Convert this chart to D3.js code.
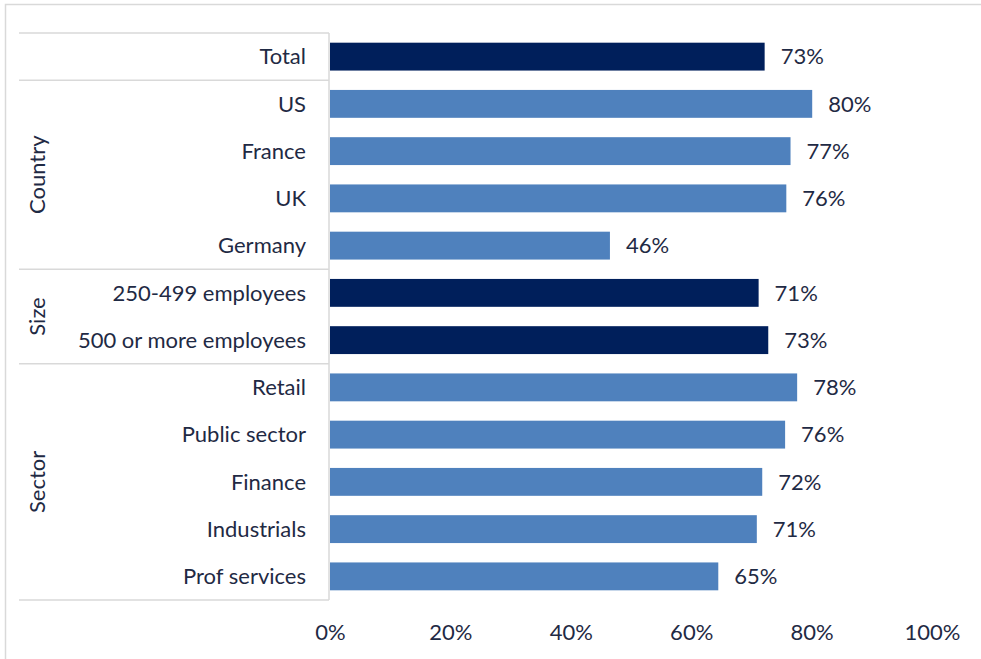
<!DOCTYPE html>
<html>
<head>
<meta charset="utf-8">
<script src="https://cdn.jsdelivr.net/npm/d3@7"></script>
<style>
  body { margin: 0; background: #fff; }
  text { font-family: Lato, "Open Sans", sans-serif; fill: #1f2a44; }
</style>
</head>
<body>
<svg id="chart"></svg>
<script>
// categories, top to bottom
const categories = ["Total", "US", "France", "UK", "Germany",
  "250-499 employees", "500 or more employees",
  "Retail", "Public sector ", "Finance", "Industrials", "Prof services"];
const values = [0.722, 0.801, 0.765, 0.758, 0.465, 0.712, 0.728, 0.776, 0.756, 0.718, 0.709, 0.645];
const valueLabels = ["73%", "80%", "77%", "76%", "46%", "71%", "73%", "78%", "76%", "72%", "71%", "65%"];
const highlight = ["Total", "250-499 employees", "500 or more employees"];
// groups: name, first and last category index
const groups = [
  {name: "", from: 0, to: 0},
  {name: "Country", from: 1, to: 4},
  {name: "Size", from: 5, to: 6},
  {name: "Sector", from: 7, to: 11}
];
const xTicks = [0, 0.2, 0.4, 0.6, 0.8, 1];

const chartW = 981, chartH = 659;
const plotL = 330, plotR = 932, plotT = 33, plotB = 600;
const fontSize = "22px";

const svg = d3.select("#chart").attr("width", chartW).attr("height", chartH);

// outer frame
svg.append("rect")
  .attr("x", 5.5).attr("y", 4.5)
  .attr("width", chartW).attr("height", chartH)
  .attr("fill", "none").attr("stroke", "#d9d9d9").attr("stroke-width", 1.5);

const x = d3.scaleLinear().domain([0, 1]).range([plotL, plotR]);
const y = d3.scaleBand().domain(categories).range([plotT, plotB])
  .paddingInner(0.41).paddingOuter(0.205);

// bars
svg.selectAll(".bar")
  .data(categories)
  .join("rect")
  .attr("class", "bar")
  .attr("x", x(0))
  .attr("y", d => y(d))
  .attr("width", (d, i) => x(values[i]) - x(0))
  .attr("height", y.bandwidth())
  .attr("fill", d => highlight.includes(d) ? "#001f5b" : "#4f81bd");

// value labels
svg.selectAll(".val")
  .data(categories)
  .join("text")
  .attr("class", "val")
  .attr("x", (d, i) => x(values[i]) + 16)
  .attr("y", d => y(d) + y.bandwidth() / 2)
  .attr("dy", "0.35em")
  .style("font-size", fontSize)
  .text((d, i) => valueLabels[i]);

// category labels
svg.selectAll(".cat")
  .data(categories)
  .join("text")
  .attr("class", "cat")
  .attr("x", 306)
  .attr("y", d => y(d) + y.bandwidth() / 2)
  .attr("dy", "0.35em")
  .attr("text-anchor", "end")
  .style("font-size", fontSize)
  .text(d => d);

// group table lines
const step = y.step();
const edge = i => plotT + i * step;
const lines = svg.append("g").attr("stroke", "#d9d9d9").attr("stroke-width", 1.5);
lines.append("line").attr("x1", 329).attr("x2", 329).attr("y1", plotT).attr("y2", plotB);
const borders = [0].concat(groups.map(g => g.to + 1));
lines.selectAll(".hl")
  .data(borders)
  .join("line")
  .attr("x1", 19).attr("x2", 329)
  .attr("y1", d => edge(d)).attr("y2", d => edge(d));

// group labels
svg.selectAll(".grp")
  .data(groups.filter(g => g.name))
  .join("text")
  .attr("class", "grp")
  .attr("text-anchor", "middle")
  .attr("dy", "0.35em")
  .attr("transform", g => `translate(37,${(edge(g.from) + edge(g.to + 1)) / 2}) rotate(-90)`)
  .style("font-size", fontSize)
  .text(g => g.name);

// x axis labels
const xAxis = d3.axisBottom(x).tickValues(xTicks).tickFormat(d3.format(".0%")).tickSize(0).tickPadding(0);
const xg = svg.append("g").attr("transform", `translate(0,${632})`).call(xAxis);
xg.select(".domain").remove();
xg.selectAll("text")
  .attr("y", 0).attr("dy", "0.35em")
  .style("font-size", fontSize)
  .style("font-family", "Lato, 'Open Sans', sans-serif")
  .attr("fill", "#1f2a44");
</script>
</body>
</html>
